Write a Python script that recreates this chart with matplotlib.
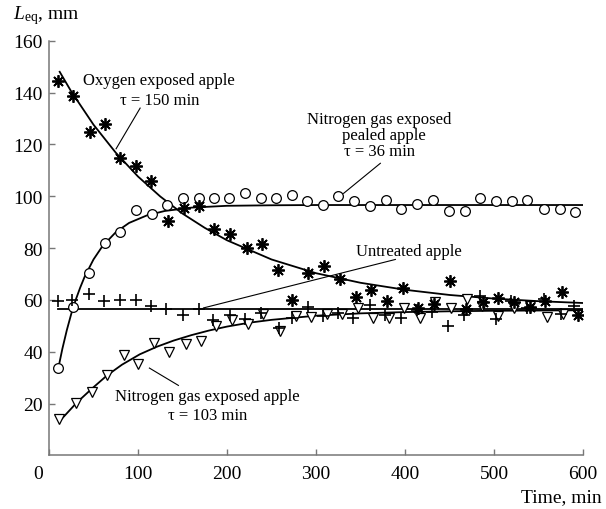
import matplotlib
matplotlib.use("Agg")
import matplotlib.pyplot as plt
import matplotlib.transforms as mtransforms

plt.rcParams['font.family'] = ['Liberation Serif', 'DejaVu Serif']
plt.rcParams['mathtext.fontset'] = 'custom'
plt.rcParams['mathtext.rm'] = 'Liberation Serif'
plt.rcParams['mathtext.it'] = 'Liberation Serif:italic'

# ---- data ----
oxy_t = [10, 27, 46, 63, 80, 98, 115, 134, 152, 169, 185, 203, 222, 239, 257, 273, 291,
         309, 327, 345, 362, 380, 398, 415, 433, 451, 469, 488, 504, 522, 540, 557, 576, 594]
oxy_v = [144.3, 138.5, 124.7, 127.8, 114.7, 111.5, 105.9, 90.4, 95.3, 96.1, 87.3, 85.4,
         80.1, 81.5, 71.5, 60.1, 70.4, 73.1, 68.2, 61.2, 63.7, 59.5, 64.6, 56.9, 58.6,
         67.2, 56.6, 59.0, 60.9, 59.2, 57.3, 59.6, 63.1, 54.3]

peel_t = [10.5, 27, 45, 63, 80, 97.5, 115.5, 133, 150, 168, 185, 202.5, 220.5, 238.5, 255,
          273, 290, 308, 325, 343, 361, 379, 396, 414, 432, 449, 467, 484, 502, 520, 537,
          556, 574, 591]
peel_v = [33.7, 57.3, 70.4, 82.0, 86.3, 94.7, 93.0, 96.6, 99.5, 99.2, 99.2, 99.2, 101.4,
          99.4, 99.4, 100.5, 98.2, 96.6, 100.1, 98.2, 96.4, 98.5, 94.9, 96.9, 98.5, 94.3,
          94.3, 99.2, 98.2, 98.2, 98.5, 95.1, 94.9, 93.8]

untr_t = [10, 26, 45, 62, 80, 97.5, 115, 132, 150, 168, 184, 203, 220.5, 238.5, 258, 273,
          291, 308, 325, 342, 361, 377, 396, 413, 430.5, 448, 466, 484, 502, 519, 537, 556,
          575, 590]
untr_v = [59.6, 60.1, 62.1, 59.6, 60.1, 59.8, 57.5, 56.6, 54.3, 56.6, 52.1, 54.3, 52.5,
          55.0, 49.2, 53.2, 57.3, 53.7, 55.0, 53.0, 58.2, 54.0, 53.0, 56.0, 55.3, 49.9,
          54.0, 61.4, 52.5, 59.6, 56.9, 60.5, 54.4, 57.7]

n2_t = [11, 30, 48, 65, 84, 100.5, 118, 135, 154, 171, 188, 205.5, 224, 241, 259, 277, 294,
        312, 329, 347, 364, 382, 399, 417, 434, 452, 470, 487, 505, 523, 540, 559, 577]
n2_v = [14.1, 20.3, 24.6, 31.1, 38.8, 35.4, 43.4, 39.9, 43.1, 44.0, 49.9, 52.1, 50.6, 54.4,
        47.9, 53.7, 53.4, 54.7, 54.7, 56.9, 53.0, 53.0, 56.9, 53.0, 59.2, 56.9, 60.5, 57.5,
        53.8, 57.0, 57.5, 53.4, 54.4]

# fitted curves
oxy_fit_t = [12, 25, 50, 75, 100, 125, 150, 175, 200, 250, 300, 350, 400, 450, 500, 550, 600]
oxy_fit_v = [148.0, 140.4, 127.6, 116.8, 107.6, 99.9, 93.3, 87.8, 83.0, 75.6, 70.3, 66.6,
             63.9, 61.9, 60.5, 59.5, 58.8]

peel_fit_t = [10.5, 15, 20, 25, 30, 35, 40, 50, 60, 75, 90, 110, 130, 160, 200, 250, 300,
              400, 500, 600]
peel_fit_v = [33.7, 41.1, 48.3, 54.6, 60.0, 64.7, 68.9, 75.6, 80.7, 86.1, 89.7, 92.6, 94.3,
              95.6, 96.3, 96.5, 96.6, 96.6, 96.6, 96.6]

untr_fit_t = [10, 600]
untr_fit_v = [56.3, 56.3]

n2_fit_t = [12, 17, 31, 48, 65, 82, 102, 121, 140, 160, 180, 200, 225, 250, 300, 350, 400,
            450, 500, 550, 600]
n2_fit_v = [13.3, 15.1, 20.3, 25.7, 30.8, 35.0, 39.0, 41.9, 44.3, 46.4, 48.2, 49.7, 51.2,
            52.3, 53.9, 54.8, 55.3, 55.6, 55.8, 55.9, 56.0]

x_ticks = [0, 100, 200, 300, 400, 500, 600]
y_ticks = [20, 40, 60, 80, 100, 120, 140, 160]

# ---- figure ----
fig = plt.figure(figsize=(6.06, 5.10), dpi=100)
ax = fig.add_axes([49 / 606, (510 - 456.4) / 510, (583 - 49) / 606, (456.4 - 41.7) / 510])

lw = 1.3
ax.plot(oxy_fit_t, oxy_fit_v, color='black', lw=lw, zorder=2)
ax.plot(peel_fit_t, peel_fit_v, color='black', lw=lw, zorder=2)
ax.plot(untr_fit_t, untr_fit_v, color='black', lw=lw, zorder=2)
ax.plot(n2_fit_t, n2_fit_v, color='black', lw=lw, zorder=2)

ax.plot(peel_t, peel_v, linestyle='none', marker='o', ms=7, mfc='white', mec='black',
        mew=0.9, zorder=3)
ax.plot(n2_t, n2_v, linestyle='none', marker='v', ms=7.5, mfc='white', mec='black',
        mew=0.9, zorder=3)
ax.plot(untr_t, untr_v, linestyle='none', marker='+', ms=8, mec='black', mew=1.2, zorder=4)
ax.plot(oxy_t, oxy_v, linestyle='none', marker=(8, 2, 0), ms=9, mec='black', mew=1.3,
        zorder=4)

ax.set_xlim(0, 600)
ax.set_ylim(0, 160)
ax.set_xticks(x_ticks)
ax.set_xticklabels([str(v) for v in x_ticks])
ax.set_yticks(y_ticks)
ax.set_yticklabels([str(v) for v in y_ticks])

for s in ['top', 'right']:
    ax.spines[s].set_visible(False)
for s in ['left', 'bottom']:
    ax.spines[s].set_color('#777777')
    ax.spines[s].set_linewidth(1.1)
ax.tick_params(direction='in', length=4, width=1.0, color='#777777', labelsize=14)
ax.tick_params(axis='x', pad=7)
ax.tick_params(axis='y', pad=4.5)

# shift the "0" x label to the corner
shift = mtransforms.ScaledTranslation(-11 / 100, 0, fig.dpi_scale_trans)
lbl0 = ax.get_xticklabels()[0]
lbl0.set_transform(lbl0.get_transform() + shift)

# ---- annotations ----
fs = 12
ax.text(122.9, 143.3, 'Oxygen exposed apple', ha='center', va='baseline', fontsize=fs)
ax.text(124.8, 135.6, 'τ = 150 min', ha='center', va='baseline', fontsize=fs)
ax.plot([102.4, 75.4], [134.0, 118.3], color='black', lw=0.8)

ax.text(371.2, 128.2, 'Nitrogen gas exposed', ha='center', va='baseline', fontsize=fs)
ax.text(376.0, 122.0, 'pealed apple', ha='center', va='baseline', fontsize=fs)
ax.text(371.3, 115.9, 'τ = 36 min', ha='center', va='baseline', fontsize=fs)
ax.plot([372.3, 331.0], [112.7, 101.1], color='black', lw=0.8)

ax.text(404.4, 77.5, 'Untreated apple', ha='center', va='baseline', fontsize=fs)
ax.plot([389.2, 173.6], [75.6, 56.9], color='black', lw=0.8)

ax.text(177.7, 21.2, 'Nitrogen gas exposed apple', ha='center', va='baseline', fontsize=fs)
ax.text(178.6, 14.1, 'τ = 103 min', ha='center', va='baseline', fontsize=fs)
ax.plot([145.4, 112.8], [27.0, 33.7], color='black', lw=0.8)

fig.text(12.7 / 606, 1 - 19 / 510, r'$L_{\rm eq}$, mm', fontsize=14, ha='left', va='baseline')
fig.text(602 / 606, 1 - 501.7 / 510, 'Time, min', fontsize=14, ha='right', va='baseline')

fig.savefig('out.png', dpi=100)
